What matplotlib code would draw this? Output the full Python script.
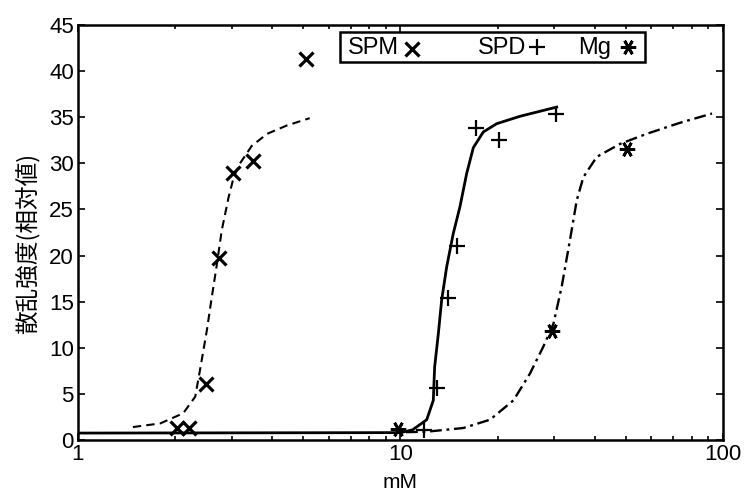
import matplotlib

matplotlib.use("Agg")
import matplotlib.pyplot as plt
from matplotlib.patches import Rectangle

plt.rcParams["font.family"] = ["Liberation Sans", "Noto Sans CJK JP", "DejaVu Sans"]

# measured points
spm_x = [2.03, 2.21, 2.50, 2.73, 3.03, 3.50, 5.10]
spm_y = [1.3, 1.3, 6.1, 19.7, 28.9, 30.3, 41.3]
spd_x = [11.85, 13.0, 14.07, 15.0, 17.14, 20.25, 30.35]
spd_y = [1.1, 5.6, 15.4, 21.0, 33.8, 32.5, 35.3]
mg_x = [9.84, 29.6, 50.3]
mg_y = [1.2, 11.8, 31.6]

# fitted curves
spm_cx = [1.48, 1.80, 2.12, 2.31, 2.39, 2.51, 2.60, 2.70, 2.79, 2.93, 3.04, 3.18, 3.46, 3.86, 4.44, 5.23]
spm_cy = [1.4, 1.8, 2.9, 4.7, 7.6, 11.9, 15.5, 19.2, 22.7, 26.3, 28.5, 30.0, 31.9, 33.2, 34.1, 34.9]
spd_cx = [1.0, 10.0, 10.9, 12.06, 12.64, 12.76, 13.1, 13.42, 13.91, 14.58, 15.29, 16.04, 16.82, 18.06, 19.88, 23.47, 30.5]
spd_cy = [0.75, 0.8, 1.1, 2.2, 4.3, 7.9, 11.5, 15.2, 18.8, 22.4, 25.3, 28.9, 31.7, 33.4, 34.3, 35.1, 36.1]
mg_cx = [10.4, 12.06, 15.66, 18.95, 22.4, 25.2, 27.7, 29.8, 31.6, 33.5, 35.2, 36.9, 40.6, 47.9, 58.0, 73.6, 92.5]
mg_cy = [0.85, 0.9, 1.3, 2.2, 4.3, 7.2, 10.1, 12.6, 16.6, 21.6, 26.0, 28.5, 30.7, 32.1, 33.2, 34.4, 35.4]

y_ticks = list(range(0, 50, 5))
x_ticks = [1, 10, 100]
x_ticklabels = ["1", "10", "100"]
series_names = ["SPM", "SPD", "Mg"]

asterisk = (6, 2, 90)
marker_styles = [
    dict(marker="x", ms=10, mew=2.3),
    dict(marker="+", ms=12, mew=1.6),
    dict(marker=asterisk, ms=11, mew=2.0),
]

fig = plt.figure(figsize=(7.49, 4.97), dpi=100)
ax = fig.add_axes([0.1041, 0.1147, 0.8612, 0.835])

ax.plot(spm_cx, spm_cy, color="black", lw=1.5, linestyle=(0, (4, 2.5)))
ax.plot(spd_cx, spd_cy, color="black", lw=2.0, linestyle="-")
ax.plot(mg_cx, mg_cy, color="black", lw=1.7, linestyle=(0, (5, 2, 1.2, 2)))

for xs, ys, st in zip([spm_x, spd_x, mg_x], [spm_y, spd_y, mg_y], marker_styles):
    ax.plot(xs, ys, linestyle="none", color="black", **st)

ax.set_xscale("log")
ax.set_xlim(1, 100)
ax.set_ylim(0, 45)
ax.set_xticks(x_ticks)
ax.set_xticklabels(x_ticklabels)
ax.set_yticks(y_ticks)
ax.tick_params(which="both", direction="in", top=True, right=True, labelsize=16, width=1.2, pad=3)
ax.tick_params(which="major", length=5)
ax.tick_params(which="minor", length=3)
for s in ax.spines.values():
    s.set_linewidth(1.8)

fig.text(400 / 749, 1 - 483 / 497, "mM", fontsize=15, ha="center", va="center")
fig.text(28.5 / 749, 1 - 243 / 497, "散乱強度(相対値)", fontsize=17, rotation=90,
         ha="center", va="center", family=["Noto Sans CJK JP"])

# legend: text followed by the marker, drawn in axes fractions
ax.add_patch(Rectangle((0.406, 0.9116), 0.473, 0.0722, transform=ax.transAxes,
                       fill=False, edgecolor="black", lw=1.8, zorder=6, clip_on=False))
text_left = [0.4186, 0.620, 0.7752]
mark_x = [0.5186, 0.7109, 0.852]
mark_y = [0.942, 0.946, 0.947]
for name, tx, mx, my, st in zip(series_names, text_left, mark_x, mark_y, marker_styles):
    ax.text(tx, 0.930, name, transform=ax.transAxes, fontsize=17, ha="left", va="baseline", zorder=7)
    ax.plot([mx], [my], transform=ax.transAxes, linestyle="none", color="black", zorder=7,
            clip_on=False, **st)

fig.savefig("out.png", dpi=100)
